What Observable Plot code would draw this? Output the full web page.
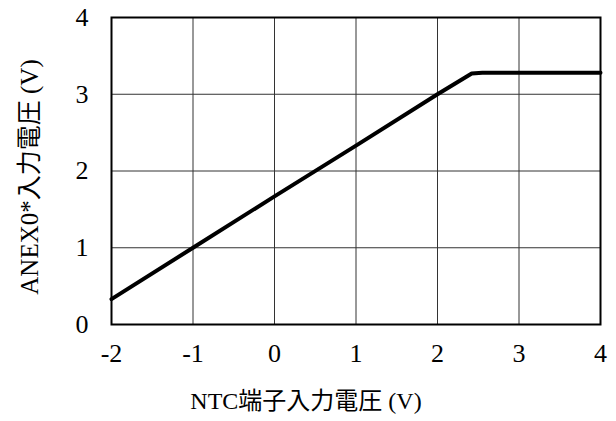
<!DOCTYPE html>
<html>
<head>
<meta charset="utf-8">
<script src="https://cdn.jsdelivr.net/npm/d3@7"></script>
<script src="https://cdn.jsdelivr.net/npm/@observablehq/plot@0.6"></script>
<style>
  html, body { margin: 0; padding: 0; background: #fff; }
  svg [aria-label$="tick label"] { font-size: 26px; }
</style>
</head>
<body>
<div id="chart"></div>
<script>
// Transfer curve: NTC terminal input voltage vs. ANEX0* input voltage
const inputV  = [-2, -1, 0, 1, 2, 2.42, 2.55, 3, 4];
const outputV = [0.33, 1, 1.67, 2.33, 3, 3.27, 3.28, 3.28, 3.28];

const xTicks = [-2, -1, 0, 1, 2, 3, 4];
const yTicks = [0, 1, 2, 3, 4];

const xTitle = "NTC端子入力電圧 (V)";
const yTitle = "ANEX0*入力電圧 (V)";

const data = inputV.map((v, i) => ({x: v, y: outputV[i]}));

const font = "'Liberation Serif', 'Times New Roman', 'Noto Sans CJK JP', serif";

const chart = Plot.plot({
  width: 616,
  height: 421,
  marginLeft: 111,
  marginRight: 16,
  marginTop: 17,
  marginBottom: 97,
  style: {fontFamily: font, fontSize: "24px", color: "#000", background: "#fff"},
  x: {domain: [-2, 4]},
  y: {domain: [0, 4]},
  marks: [
    Plot.gridX(xTicks, {stroke: "#333", strokeOpacity: 1, strokeWidth: 1}),
    Plot.gridY(yTicks, {stroke: "#333", strokeOpacity: 1, strokeWidth: 1}),
    Plot.frame({stroke: "#000", strokeWidth: 2}),
    Plot.axisX(xTicks, {tickSize: 0, tickPadding: 19, label: null, tickFormat: d => String(d)}),
    Plot.axisY(yTicks, {tickSize: 0, tickPadding: 23, label: null, tickFormat: d => String(d)}),
    Plot.line(data, {x: "x", y: "y", stroke: "#000", strokeWidth: 4, curve: "linear", strokeLinejoin: "round"}),
    Plot.text([xTitle], {frameAnchor: "bottom", dx: -50, dy: 84, fontSize: 24, fill: "#000"}),
    Plot.text([yTitle], {frameAnchor: "left", textAnchor: "middle", dx: -82, dy: 6, rotate: -90, fontSize: 25, fill: "#000"})
  ]
});

document.getElementById("chart").appendChild(chart);
</script>
</body>
</html>
